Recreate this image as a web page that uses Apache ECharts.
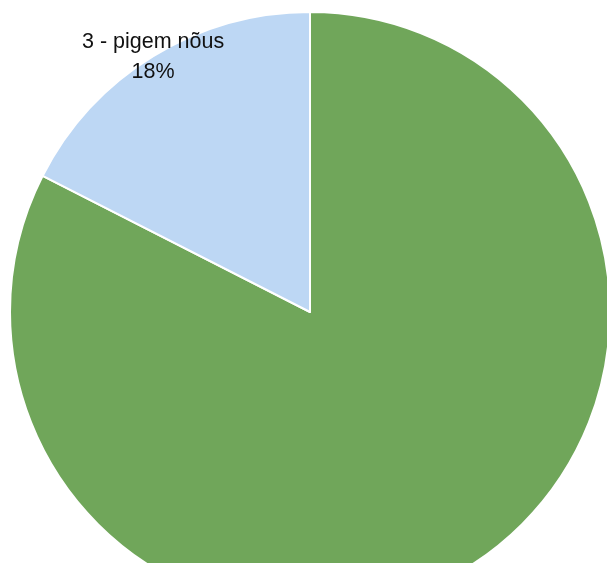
<!DOCTYPE html>
<html>
<head>
<meta charset="utf-8">
<script src="https://cdn.jsdelivr.net/npm/echarts@6/dist/echarts.min.js"></script>
<style>html,body{margin:0;padding:0;background:#fff}#c{width:607px;height:563px}</style>
</head>
<body>
<div id="c"></div>
<script>
const categories = ['4 - täiesti nõus', '3 - pigem nõus'];
const values = [82.5, 17.5];
const colors = ['#70A65A', '#BDD7F4'];
const showLabel = [false, true];

const chart = echarts.init(document.getElementById('c'), null, {renderer: 'canvas'});
chart.setOption({
  animation: false,
  series: [{
    type: 'pie',
    center: [310, 312],
    radius: 300,
    startAngle: 90,
    clockwise: true,
    avoidLabelOverlap: false,
    itemStyle: {borderColor: '#ffffff', borderWidth: 2},
    label: {
      position: 'inside',
      offset: [-77, -124],
      color: '#111111',
      fontFamily: 'Liberation Sans, Arial, sans-serif',
      fontSize: 21.5,
      lineHeight: 30,
      align: 'center',
      formatter: p => p.name + '\n' + Math.round(p.percent) + '%'
    },
    labelLine: {show: false},
    emphasis: {disabled: true},
    data: categories.map((n, i) => ({
      name: n, value: values[i],
      itemStyle: {color: colors[i]},
      label: {show: showLabel[i]}
    }))
  }]
});
</script>
</body>
</html>
